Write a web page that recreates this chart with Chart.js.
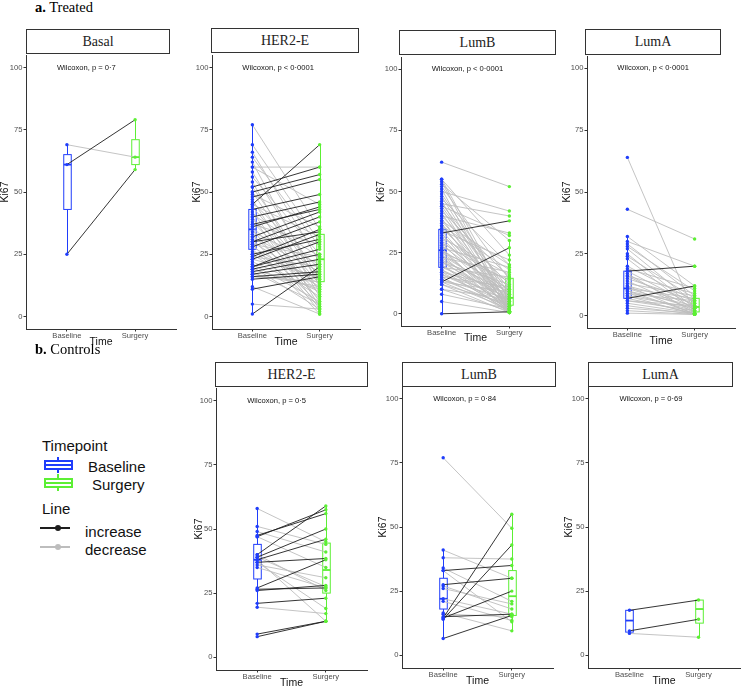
<!DOCTYPE html>
<html>
<head>
<meta charset="utf-8">
<script src="https://cdn.jsdelivr.net/npm/chart.js@4.4.1/dist/chart.umd.min.js"></script>
<style>
    body { margin: 0; width: 741px; height: 686px; overflow: hidden; background: #fff; position: relative;
        font-family: "Liberation Sans", Arial, sans-serif; }
    canvas { position: absolute; }
    .strip { position: absolute; border: 1px solid #333; box-sizing: border-box; background: #fff;
        font-family: "Liberation Serif", "Times New Roman", serif; font-size: 14px; font-weight: 400;
        color: #222; display: flex; align-items: center; justify-content: center; }
    .sec { position: absolute; font-family: "Liberation Serif", "Times New Roman", serif; font-size: 14.5px;
        line-height: 16px; white-space: nowrap; }
    .lg { position: absolute; font-size: 15px; line-height: 17px; white-space: nowrap; color: #111; }
    .ic { position: absolute; box-sizing: border-box; }
</style>
</head>
<body>
<script>
// shared labels
var timeLabels = ['Baseline', 'Surgery'];
var yTicks = [0, 25, 50, 75, 100];

// a. Treated - paired Ki67 values (baseline[i] -> surgery[i])
var treatedBasalBaseline = [69, 61, 25];
var treatedBasalSurgery = [64, 79, 59];
var treatedBasalBox = [[25, 43, 61, 65, 69], [59, 61, 64, 71, 79]];

var treatedHer2Baseline = [1, 11, 15, 16, 17, 18, 19, 20, 20, 23, 24, 25, 28, 30, 30, 32, 36, 37, 40, 43,
    45, 48, 50, 52, 60, 77, 69, 66, 64, 62, 58, 56, 54, 52, 50, 49, 47, 46, 45, 44, 42, 41, 40, 39, 38,
    37, 36, 35, 34, 33, 32, 31, 30, 29, 28, 27, 26, 25, 22, 21, 20, 19, 18, 16, 5, 12, 60, 29, 24, 17, 23];
var treatedHer2Surgery = [20, 16, 17, 18, 21, 23, 25, 27, 30, 33, 35, 31, 38, 34, 40, 42, 44, 43, 46, 49,
    69, 55, 57, 60, 60, 35, 30, 22, 28, 12, 15, 25, 8, 14, 10, 36, 4, 19, 32, 13, 6, 24, 3, 17, 11,
    29, 9, 2, 21, 7, 18, 5, 13, 24, 12, 4, 15, 8, 10, 6, 3, 11, 5, 14, 3, 1, 45, 1, 20, 12, 16];
var treatedHer2Box = [[1, 27, 35, 43, 77], [1, 14, 23, 33, 69]];

var treatedLumBBaseline = [0, 33, 13, 62, 55, 54, 53, 52, 51, 50, 49, 48, 47, 46, 45, 45, 44, 43, 42, 41,
    40, 40, 39, 38, 37, 36, 36, 35, 34, 34, 33, 32, 31, 31, 30, 29, 29, 28, 27, 27, 26, 26, 25, 25, 24,
    24, 23, 23, 22, 22, 21, 21, 20, 20, 19, 19, 18, 18, 17, 17, 16, 16, 15, 15, 14, 14, 13, 13, 12, 12,
    10, 10, 8, 5, 55, 44, 38];
var treatedLumBSurgery = [0.8, 38, 27, 52, 5, 2, 30, 14, 1, 42, 8, 3, 20, 0.5, 40, 10, 6, 1, 15, 4,
    33, 12, 2, 7, 0.5, 18, 5, 9, 3, 22, 1, 11, 4, 16, 6, 2, 13, 8, 0.5, 19, 3, 10, 5, 14, 1,
    7, 4, 17, 2, 9, 6, 12, 0.5, 3, 8, 15, 1, 5, 10, 2, 4, 7, 1, 11, 3, 6, 2, 9, 0.5, 4,
    1, 6, 2, 0.5, 24, 32, 20];
var treatedLumBBox = [[0, 19, 26, 34.5, 55], [0, 3.5, 6.5, 14.5, 30]];

var treatedLumABaseline = [18, 7, 64, 43, 32, 30, 29, 28, 27, 25, 24, 23, 20, 19, 18, 17, 16, 16, 15, 14,
    13, 12, 12, 11, 11, 10, 10, 9, 9, 8, 8, 7, 6, 6, 5, 4, 3, 2, 1];
var treatedLumASurgery = [20, 12, 1, 31, 12, 20, 8, 10, 5, 3, 7, 2, 6, 11, 4, 1, 9, 3, 6, 2,
    8, 0.5, 5, 3, 7, 1, 4, 2, 6, 0.5, 3, 1, 4, 2, 1, 0.5, 1, 0.5, 0.5];
var treatedLumABox = [[1, 7, 11, 18, 32], [0, 1.5, 3.5, 7, 12.5]];

// b. Controls
var controlHer2Baseline = [47, 47.5, 40, 39, 38, 37, 27, 26, 26.5, 21, 9, 8, 58, 51, 49, 47, 36, 35, 37, 40, 38, 19.5, 39];
var controlHer2Surgery = [57.5, 56, 59, 50, 46, 38.5, 38, 28, 27, 23, 14, 14, 45, 44, 41, 35, 31, 27, 19, 26, 14, 17, 27.5];
var controlHer2Box = [[19.5, 30.5, 38, 44, 58], [14, 25, 34, 44.5, 59]];

var controlLumBBaseline = [14.5, 14, 14.5, 6.5, 33, 27.5, 15, 77, 41, 38, 34, 27, 22, 21, 16.5, 26, 33, 16];
var controlLumBSurgery = [55, 43, 25, 15.5, 35, 30, 16, 49.5, 30, 37.5, 21, 18, 16, 13.5, 9.5, 20, 13, 15];
var controlLumBBox = [[6.5, 18, 22, 30, 41], [9.5, 15.5, 23, 33, 55]];

var controlLumABaseline = [17.5, 9.5, 8.5];
var controlLumASurgery = [21.5, 14, 7];
var controlLumABox = [[8.5, 9, 13.5, 17.5, 17.5], [7, 12.5, 18, 21.5, 21.5]];

var BLUE = '#1f3dfb';
var GREEN = '#5cef34';
var UP = '#1e1e1e';
var DOWN = '#bdbdbd';
var AXIS = '#333333';

// panel geometry: plot area L/R/T/B in page px, y-axis width, x-axis height, strip box
var panels = [
    { title: 'Basal', p: 'Wilcoxon, p = 0·7', base: treatedBasalBaseline, surg: treatedBasalSurgery, box: treatedBasalBox,
        L: 26, R: 176, T: 55, B: 329, yw: 27, xh: 19, strip: [26, 29, 144, 25] },
    { title: 'HER2-E', p: 'Wilcoxon, p < 0·0001', base: treatedHer2Baseline, surg: treatedHer2Surgery, box: treatedHer2Box,
        L: 212, R: 360, T: 55, B: 329, yw: 21, xh: 19, strip: [211, 28, 148, 25] },
    { title: 'LumB', p: 'Wilcoxon, p < 0·0001', base: treatedLumBBaseline, surg: treatedLumBSurgery, box: treatedLumBBox,
        L: 401, R: 550, T: 57, B: 326, yw: 26, xh: 18, strip: [399, 30, 157, 25] },
    { title: 'LumA', p: 'Wilcoxon, p < 0·0001', base: treatedLumABaseline, surg: treatedLumASurgery, box: treatedLumABox,
        L: 587, R: 735, T: 56, B: 328, yw: 26, xh: 19, strip: [585, 29, 136, 26] },
    { title: 'HER2-E', p: 'Wilcoxon, p = 0·5', base: controlHer2Baseline, surg: controlHer2Surgery, box: controlHer2Box,
        L: 216, R: 367, T: 388, B: 670, yw: 23, xh: 19, strip: [215, 362, 153, 25] },
    { title: 'LumB', p: 'Wilcoxon, p = 0·84', base: controlLumBBaseline, surg: controlLumBSurgery, box: controlLumBBox,
        L: 402, R: 553, T: 386, B: 668, yw: 25, xh: 19, strip: [402, 362, 154, 25] },
    { title: 'LumA', p: 'Wilcoxon, p = 0·69', base: controlLumABaseline, surg: controlLumASurgery, box: controlLumABox,
        L: 588, R: 740, T: 386, B: 668, yw: 25, xh: 19, strip: [588, 362, 145, 25] }
];

var PAD_TOP = 8, PAD_RIGHT = 4;

// boxplots behind the lines, test label on top
function boxPlugin(panel) {
    return {
        id: 'boxes',
        beforeDatasetsDraw: function (chart) {
            var ctx = chart.ctx, x = chart.scales.x, y = chart.scales.y;
            var colors = [BLUE, GREEN];
            panel.box.forEach(function (b, i) {
                var cx = Math.round(x.getPixelForValue(i + 1)) + 0.5;
                var hw = x.getPixelForValue(1.055) - x.getPixelForValue(1);
                var py = b.map(function (v) { return y.getPixelForValue(v); });
                ctx.save();
                ctx.strokeStyle = colors[i];
                ctx.lineWidth = 1;
                ctx.beginPath();
                ctx.moveTo(cx, py[0]); ctx.lineTo(cx, py[1]);
                ctx.moveTo(cx, py[3]); ctx.lineTo(cx, py[4]);
                ctx.stroke();
                ctx.fillStyle = '#fff';
                ctx.fillRect(cx - hw, py[3], hw * 2, py[1] - py[3]);
                ctx.strokeRect(cx - hw, py[3], hw * 2, py[1] - py[3]);
                ctx.lineWidth = 1.8;
                ctx.beginPath();
                ctx.moveTo(cx - hw, py[2]); ctx.lineTo(cx + hw, py[2]);
                ctx.stroke();
                ctx.restore();
            });
        },
        afterDatasetsDraw: function (chart) {
            var ctx = chart.ctx, x = chart.scales.x, y = chart.scales.y;
            ctx.save();
            ctx.fillStyle = '#111';
            ctx.font = '7.6px "Liberation Sans", Arial, sans-serif';
            ctx.textBaseline = 'middle';
            ctx.fillText(panel.p, x.getPixelForValue(1) - 10, y.getPixelForValue(100));
            ctx.restore();
        }
    };
}

function makeChart(panel) {
    var w = panel.yw + (panel.R - panel.L) + PAD_RIGHT;
    var h = PAD_TOP + (panel.B - panel.T) + panel.xh;
    var cv = document.createElement('canvas');
    cv.width = w; cv.height = h;
    cv.style.left = (panel.L - panel.yw) + 'px';
    cv.style.top = (panel.T - PAD_TOP) + 'px';
    cv.style.width = w + 'px'; cv.style.height = h + 'px';
    document.body.appendChild(cv);

    var up = [], down = [];
    panel.base.forEach(function (b, i) {
        var s = panel.surg[i];
        var arr = s > b ? up : down;
        arr.push({ x: 1, y: b }, { x: 2, y: s }, { x: 1.5, y: null });
    });

    var tickFont = { family: '"Liberation Sans", Arial, sans-serif', size: 7.6 };
    var titleFont = { family: '"Liberation Sans", Arial, sans-serif', size: 10.5 };

    new Chart(cv.getContext('2d'), {
        type: 'scatter',
        data: {
            datasets: [
                { data: panel.base.map(function (v) { return { x: 1, y: v }; }), backgroundColor: BLUE,
                    borderWidth: 0, pointRadius: 1.7 },
                { data: panel.surg.map(function (v) { return { x: 2, y: v }; }), backgroundColor: GREEN,
                    borderWidth: 0, pointRadius: 1.7 },
                { data: up, showLine: true, spanGaps: false, borderColor: UP, borderWidth: 0.9, pointRadius: 0 },
                { data: down, showLine: true, spanGaps: false, borderColor: DOWN, borderWidth: 0.9, pointRadius: 0 }
            ]
        },
        options: {
            responsive: false,
            animation: false,
            devicePixelRatio: 1,
            layout: { padding: { top: PAD_TOP, right: PAD_RIGHT, left: 0, bottom: 0 } },
            plugins: { legend: { display: false }, tooltip: { enabled: false } },
            scales: {
                x: {
                    type: 'linear', position: 'bottom', min: 0.4, max: 2.6,
                    afterBuildTicks: function (s) { s.ticks = [{ value: 1 }, { value: 2 }]; },
                    afterFit: function (s) { s.height = panel.xh; },
                    ticks: { font: tickFont, color: '#4d4d4d', padding: 0,
                        callback: function (v, i) { return timeLabels[i]; } },
                    grid: { drawOnChartArea: false, drawTicks: true, tickLength: 2.5, color: AXIS },
                    border: { color: AXIS, width: 1 },
                    title: { display: true, text: 'Time', font: titleFont, color: '#111', padding: 0 }
                },
                y: {
                    min: -5, max: 105,
                    afterBuildTicks: function (s) { s.ticks = yTicks.map(function (v) { return { value: v }; }); },
                    afterFit: function (s) { s.width = panel.yw; },
                    ticks: { font: tickFont, color: '#4d4d4d', padding: 1 },
                    grid: { drawOnChartArea: false, drawTicks: true, tickLength: 2.5, color: AXIS },
                    border: { color: AXIS, width: 1 },
                    title: { display: true, text: 'Ki67', font: titleFont, color: '#111', padding: 0 }
                }
            }
        },
        plugins: [boxPlugin(panel)]
    });

    var st = document.createElement('div');
    st.className = 'strip';
    st.style.left = panel.strip[0] + 'px';
    st.style.top = panel.strip[1] + 'px';
    st.style.width = panel.strip[2] + 'px';
    st.style.height = panel.strip[3] + 'px';
    st.textContent = panel.title;
    document.body.appendChild(st);
}

panels.forEach(makeChart);

// section labels and legend
function addText(cls, html, left, top) {
    var d = document.createElement('div');
    d.className = cls;
    d.innerHTML = html;
    d.style.left = left + 'px';
    d.style.top = top + 'px';
    document.body.appendChild(d);
}
function addIcon(left, top, w, h, css) {
    var d = document.createElement('div');
    d.className = 'ic';
    d.style.left = left + 'px'; d.style.top = top + 'px';
    d.style.width = w + 'px'; d.style.height = h + 'px';
    d.style.cssText += css;
    document.body.appendChild(d);
}

addText('sec', '<b>a.</b> Treated', 35, -1);
addText('sec', '<b>b.</b> Controls', 35, 341);

addText('lg', 'Timepoint', 42, 437);
addIcon(57, 457, 2, 5, 'background:' + BLUE);
addIcon(57, 468, 2, 5, 'background:' + BLUE);
addIcon(44, 460, 29, 10, 'border:2px solid ' + BLUE + ';background:#fff');
addIcon(44, 464, 29, 2, 'background:' + BLUE);
addText('lg', 'Baseline', 88, 458);
addIcon(57, 474, 2, 5, 'background:' + GREEN);
addIcon(57, 486, 2, 5, 'background:' + GREEN);
addIcon(44, 478, 29, 10, 'border:2px solid ' + GREEN + ';background:#fff');
addIcon(44, 482, 29, 2, 'background:' + GREEN);
addText('lg', 'Surgery', 92, 476);

addText('lg', 'Line', 42, 500);
addIcon(40, 527, 30, 2, 'background:' + UP);
addIcon(55, 525, 6, 6, 'background:' + UP + ';border-radius:50%');
addText('lg', 'increase', 85, 523);
addIcon(40, 546, 30, 2, 'background:' + DOWN);
addIcon(55, 544, 6, 6, 'background:' + DOWN + ';border-radius:50%');
addText('lg', 'decrease', 85, 541);
</script>
</body>
</html>
